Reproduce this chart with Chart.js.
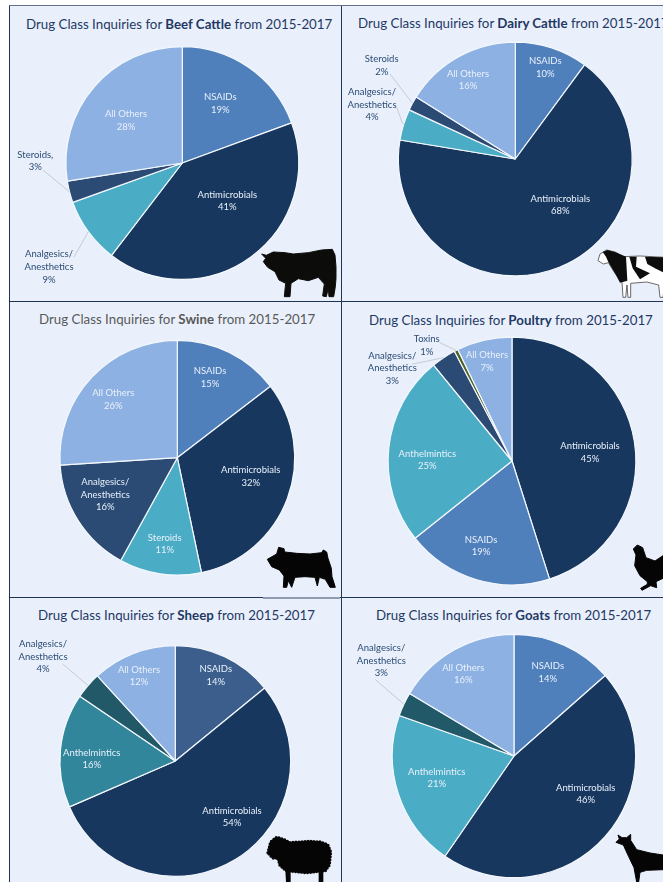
<!DOCTYPE html>
<html>
<head>
<meta charset="utf-8">
<script src="https://cdn.jsdelivr.net/npm/chart.js@4"></script>
<style>
html, body { margin: 0; padding: 0; background: #fff; }
#page { position: relative; width: 663px; height: 882px; overflow: hidden; }
#panel { position: absolute; left: 10px; top: 5px; width: 653px; height: 877px; background: #e9f0fb; }
.rule { position: absolute; background: #1f3556; }
canvas { position: absolute; left: 0; top: 0; }
.title { position: absolute; font: 13.3px Lato, sans-serif; color: #1f3864; white-space: nowrap; line-height: 18px; }
.title b { font-weight: 700; }
#icons { position: absolute; left: 0; top: 0; }
#icons path { stroke-linejoin: round; }
</style>
</head>
<body>
<div id="page">
  <div id="panel"></div>
  <div class="rule" style="left:9px;top:5px;width:1px;height:877px"></div>
  <div class="rule" style="left:341px;top:5px;width:1px;height:877px"></div>
  <div class="rule" style="left:9px;top:5px;width:654px;height:1px;background:#63738c"></div>
  <div class="rule" style="left:9px;top:301px;width:654px;height:1px"></div>
  <div class="rule" style="left:9px;top:597px;width:654px;height:1px"></div>
  <div class="rule" style="left:263px;top:597px;width:77px;height:2px;background:#8f9bb0"></div>

  <div class="title" style="left:26px;top:15px">Drug Class Inquiries for <b>Beef Cattle</b> from 2015-2017</div>
  <div class="title" style="left:358px;top:14px">Drug Class Inquiries for <b>Dairy Cattle</b> from 2015-2017</div>
  <div class="title" style="left:39px;top:310px;color:#595959">Drug Class Inquiries for <b>Swine</b> from 2015-2017</div>
  <div class="title" style="left:369px;top:311px">Drug Class Inquiries for <b>Poultry</b> from 2015-2017</div>
  <div class="title" style="left:38px;top:606px">Drug Class Inquiries for <b>Sheep</b> from 2015-2017</div>
  <div class="title" style="left:376px;top:606px">Drug Class Inquiries for <b>Goats</b> from 2015-2017</div>

  <canvas id="beef" width="663" height="882"></canvas>
  <canvas id="dairy" width="663" height="882"></canvas>
  <canvas id="swine" width="663" height="882"></canvas>
  <canvas id="poultry" width="663" height="882"></canvas>
  <canvas id="sheep" width="663" height="882"></canvas>
  <canvas id="goats" width="663" height="882"></canvas>

  <svg id="icons" width="663" height="882">
    <g transform="translate(255 240) scale(0.3333)" fill="#0c0c0a" stroke="#0c0c0a" stroke-width="3">
      <path d="M20 42 L34 46 L55 36 L90 38 L115 42 L160 38 L200 30 L232 28 L240 45 L243 80 L243 115 L241 140 L236 170 L222 170 L220 145 L214 170 L203 168 L208 132 L190 112 L160 122 L130 116 L108 130 L105 170 L88 170 L92 130 L72 120 L60 95 L38 82 L25 65 L32 55 Z"/>
    </g>
    <g transform="translate(590 240) scale(0.3333)">
      <path fill="#fff" stroke="#222" stroke-width="2" d="M24 62 L30 42 L50 30 L75 36 L100 50 L150 48 L225 52 L225 130 L219 172 L210 172 L206 135 L170 126 L122 130 L122 172 L114 172 L111 135 L107 172 L99 172 L96 125 L75 100 L55 68 L40 72 Z"/>
      <path fill="#0d0d0d" d="M38 36 L52 30 L75 36 L108 50 L112 122 L90 128 L75 100 L55 66 L48 50 Z"/>
      <path fill="#0d0d0d" d="M118 50 L140 50 L138 80 L180 100 L150 118 L128 85 Z"/>
      <path fill="#0d0d0d" d="M165 50 L225 52 L225 100 L195 85 L172 72 Z"/>
    </g>
    <g transform="translate(260 540) scale(0.3333)" fill="#050505" stroke="#050505" stroke-width="3">
      <path d="M22 58 L50 42 L56 22 L72 26 L74 36 L110 40 L150 42 L185 38 L190 30 L200 36 L204 55 L214 85 L216 110 L226 142 L210 142 L196 118 L178 112 L172 138 L165 112 L135 110 L105 112 L95 142 L85 122 L80 142 L70 142 L72 108 L58 90 L35 80 Z"/>
    </g>
    <g transform="translate(620 535) scale(0.3333)" fill="#050505" stroke="#050505" stroke-width="3">
      <path d="M40 42 L52 30 L68 38 L78 68 L105 78 L129 62 L129 130 L108 140 L110 158 L92 152 L66 166 L62 160 L82 148 L82 140 L60 122 L44 92 L48 60 Z"/>
    </g>
    <g transform="translate(260 830) scale(0.3333)" fill="#050505">
      <path stroke="#050505" stroke-width="10" stroke-dasharray="0 9" stroke-linecap="round" d="M24 68 L32 36 L50 22 L70 28 L90 38 L120 36 L150 34 L180 36 L203 44 L212 66 L208 105 L196 122 L140 128 L78 122 L60 106 L54 84 L38 84 Z"/>
      <path d="M76 120 L92 120 L92 156 L78 156 Z M176 120 L190 120 L190 156 L176 156 Z"/>
    </g>
    <g transform="translate(610 825) scale(0.3333)" fill="#050505" stroke="#050505" stroke-width="3">
      <path d="M18 52 L28 42 L24 30 L36 38 L50 38 L62 28 L62 46 L80 74 L120 84 L159 90 L159 134 L110 136 L90 142 L86 171 L80 171 L72 128 L56 95 L40 60 Z"/>
    </g>
  </svg>
</div>

<script>
// readings, percent of inquiries
var beefLabels = ['NSAIDs', 'Antimicrobials', 'Analgesics/\nAnesthetics', 'Steroids,', 'All Others'];
var beefValues = [19.4, 41, 9.1, 3, 27.5];

var dairyLabels = ['NSAIDs', 'Antimicrobials', 'Analgesics/\nAnesthetics', 'Steroids', 'All Others'];
var dairyValues = [10.1, 67.5, 4.3, 2, 16.1];

var swineLabels = ['NSAIDs', 'Antimicrobials', 'Steroids', 'Analgesics/\nAnesthetics', 'All Others'];
var swineValues = [14.6, 32.1, 11.3, 16, 26];

var poultryLabels = ['Antimicrobials', 'NSAIDs', 'Anthelmintics', 'Analgesics/\nAnesthetics', 'Toxins', 'All Others'];
var poultryValues = [45.1, 19.2, 24.8, 3.2, 0.5, 7.2];

var sheepLabels = ['NSAIDs', 'Antimicrobials', 'Anthelmintics', 'Analgesics/\nAnesthetics', 'All Others'];
var sheepValues = [14.1, 54.4, 16, 3.7, 11.8];

var goatLabels = ['NSAIDs', 'Antimicrobials', 'Anthelmintics', 'Analgesics/\nAnesthetics', 'All Others'];
var goatValues = [13.5, 46.1, 20.8, 3.2, 16.4];

var NAVY = '#18375f', BLUE = '#4f80bc', SKY = '#8db1e2', TEAL = '#4aadc5', SLATE = '#2b4b74';
var OUTSIDE = '#2b4b74', INSIDE = '#e9f0fb';

function drawLabels(chart) {
    var opts = chart.options.plugins.sliceLabels;
    var ctx = chart.ctx;
    var arcs = chart.getDatasetMeta(0).data;
    var labels = chart.data.labels;
    var values = chart.data.datasets[0].data;

    ctx.save();
    ctx.font = '9.5px Lato, sans-serif';
    ctx.textAlign = 'center';
    ctx.textBaseline = 'middle';

    labels.forEach(function (name, i) {
        var spot = opts.spots[i];
        var lines = name.split('\n').concat(Math.round(values[i]) + '%');
        var top = spot[1] - (lines.length - 1) * 12.7 / 2;

        // leader from the label to the rim of its slice
        if (spot[2] !== undefined) {
            var arc = arcs[i];
            var mid = (arc.startAngle + arc.endAngle) / 2;
            ctx.strokeStyle = '#b4bcc8';
            ctx.lineWidth = 0.7;
            ctx.beginPath();
            ctx.moveTo(spot[2], spot[3]);
            if (spot[4] !== undefined) ctx.lineTo(spot[4], spot[5]);
            ctx.lineTo(arc.x + Math.cos(mid) * arc.outerRadius, arc.y + Math.sin(mid) * arc.outerRadius);
            ctx.stroke();
        }

        ctx.fillStyle = spot[2] !== undefined ? OUTSIDE : INSIDE;
        lines.forEach(function (line, j) {
            ctx.fillText(line, spot[0], top + j * 12.7);
        });
    });
    ctx.restore();
}

Chart.register({ id: 'sliceLabels', afterDatasetsDraw: drawLabels });

function makePie(id, labels, values, colors, cx, cy, r, spots) {
    // chart.js takes the border off the radius, so pad one pixel less
    var pad = r + 1;
    return new Chart(document.getElementById(id), {
        type: 'pie',
        data: {
            labels: labels,
            datasets: [{
                data: values,
                backgroundColor: colors,
                borderColor: '#f4f8fd',
                borderWidth: 1.2
            }]
        },
        options: {
            responsive: false,
            animation: false,
            layout: { padding: { left: cx - pad, right: 663 - cx - pad, top: cy - pad, bottom: 882 - cy - pad } },
            plugins: {
                legend: { display: false },
                tooltip: { enabled: false },
                sliceLabels: { spots: spots }
            }
        }
    });
}

makePie('beef', beefLabels, beefValues, [BLUE, NAVY, TEAL, SLATE, SKY], 182.3, 163, 116,
    [[220.3, 103.5], [227.3, 201], [49, 267, 74, 257], [35.3, 161, 43, 170], [126, 120.5]]);

makePie('dairy', dairyLabels, dairyValues, [BLUE, NAVY, TEAL, SLATE, SKY], 515.3, 159, 116.5,
    [[545.3, 67.3], [560.3, 205], [372, 104.7, 396.7, 107.3, 402, 122], [381.7, 65.3, 390, 74], [468, 80]]);

makePie('swine', swineLabels, swineValues, [BLUE, NAVY, TEAL, SLATE, SKY], 177.3, 457.7, 117,
    [[210, 377.7], [250.7, 476.7], [164.7, 544], [105.3, 494.7], [113.3, 399.7]]);

makePie('poultry', poultryLabels, poultryValues, [NAVY, BLUE, TEAL, SLATE, '#4f6228', SKY], 512, 461, 123.5,
    [[590, 452.7], [481, 546], [427.3, 460], [392.3, 368.3, 411.7, 364.3], [426.7, 345.7, 439.3, 342.3], [487, 361.7]]);

makePie('sheep', sheepLabels, sheepValues, ['#3b5e8c', NAVY, '#31869b', '#215968', SKY], 175.3, 761, 115,
    [[215.7, 675.3], [232, 817], [91.7, 759], [43, 656.7, 62.7, 664], [139, 676]]);

makePie('goats', goatLabels, goatValues, [BLUE, NAVY, TEAL, '#215968', SKY], 514, 756, 121.3,
    [[547.7, 672.3], [585.7, 794], [436.7, 778], [381.3, 660.7, 375, 679.3], [463.3, 674]]);
</script>
</body>
</html>
